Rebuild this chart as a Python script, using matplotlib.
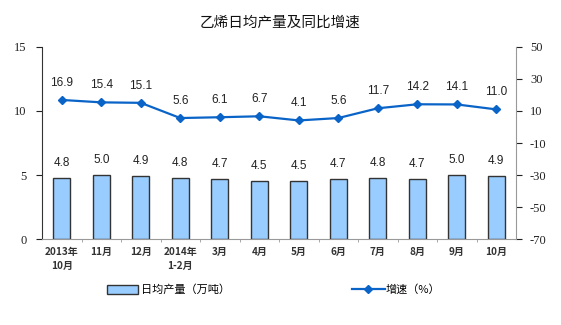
import matplotlib

matplotlib.use("Agg")
import matplotlib.pyplot as plt
from matplotlib.lines import Line2D
from matplotlib.patches import Patch

plt.rcParams["font.family"] = ["Noto Sans CJK SC", "DejaVu Sans"]
plt.rcParams["axes.unicode_minus"] = False

categories = ["2013年\n10月", "11月", "12月", "2014年\n1-2月", "3月", "4月",
              "5月", "6月", "7月", "8月", "9月", "10月"]
daily_output = [4.8, 5.0, 4.9, 4.8, 4.7, 4.5, 4.5, 4.7, 4.8, 4.7, 5.0, 4.9]
growth = [16.9, 15.4, 15.1, 5.6, 6.1, 6.7, 4.1, 5.6, 11.7, 14.2, 14.1, 11.0]

bar_color = "#99CCFF"
line_color = "#0A64C8"

fig = plt.figure(figsize=(5.61, 3.25), dpi=100)
ax = fig.add_axes([0.0749, 0.2646, 0.845, 0.5908])
x = list(range(len(categories)))

ax.bar(x, daily_output, width=0.43, color=bar_color, edgecolor="#333333", linewidth=1.0, zorder=2)
for xi, v in zip(x, daily_output):
    ax.text(xi, v + 0.7, f"{v:.1f}", ha="center", va="bottom", fontsize=8.5,
            family="Liberation Sans", color="#222222")

ax.set_xlim(-0.5, len(categories) - 0.5)
ax.set_ylim(0, 15)
ax.set_yticks([0, 5, 10, 15])
ax.set_xticks(x)
ax.set_xticklabels(categories, fontsize=7.2, fontweight="bold", color="#333333", linespacing=1.5)
ax.set_xticks([i + 0.5 for i in x[:-1]], minor=True)
ax.tick_params(axis="x", which="major", length=0, pad=6)
ax.tick_params(axis="x", which="minor", length=2, color="#999999")
ax.tick_params(axis="y", length=4, direction="out", pad=7, labelsize=9, colors="#222222")
for lbl in ax.get_yticklabels():
    lbl.set_family("Liberation Serif")
ax.spines["top"].set_visible(False)
ax.spines["right"].set_visible(False)
ax.spines["left"].set_color("#333333")
ax.spines["bottom"].set_color("#999999")

ax2 = ax.twinx()
ax2.plot(x, growth, color=line_color, lw=1.6, marker="D", markersize=4.5, zorder=3)
for xi, v in zip(x, growth):
    ax2.text(xi, v + 7, f"{v:.1f}", ha="center", va="bottom", fontsize=8.5,
             family="Liberation Sans", color="#222222")
ax2.set_ylim(-70, 50)
ax2.set_yticks(range(-70, 51, 20))
ax2.tick_params(axis="y", length=4, direction="out", labelsize=9, colors="#222222", pad=6)
for lbl in ax2.get_yticklabels():
    lbl.set_family("Liberation Serif")
ax2.spines["top"].set_visible(False)
ax2.spines["left"].set_visible(False)
ax2.spines["bottom"].set_visible(False)
ax2.spines["right"].set_color("#999999")

fig.text(0.5, 0.93, "乙烯日均产量及同比增速", ha="center", va="center", fontsize=10.5, color="#111111")

handles = [Patch(facecolor=bar_color, edgecolor="#333333", linewidth=1.0),
           Line2D([0], [0], color=line_color, lw=1.6, marker="D", markersize=4)]
fig.legend(handles[:1], ["日均产量（万吨）"], loc="center", bbox_to_anchor=(0.30, 0.108),
           frameon=False, fontsize=8, handlelength=2.8, handleheight=0.8, handletextpad=0.3)
fig.legend(handles[1:], ["增速（%）"], loc="center", bbox_to_anchor=(0.706, 0.108),
           frameon=False, fontsize=8, handlelength=3.0, handletextpad=0.1)

fig.savefig("out.png", dpi=100)
